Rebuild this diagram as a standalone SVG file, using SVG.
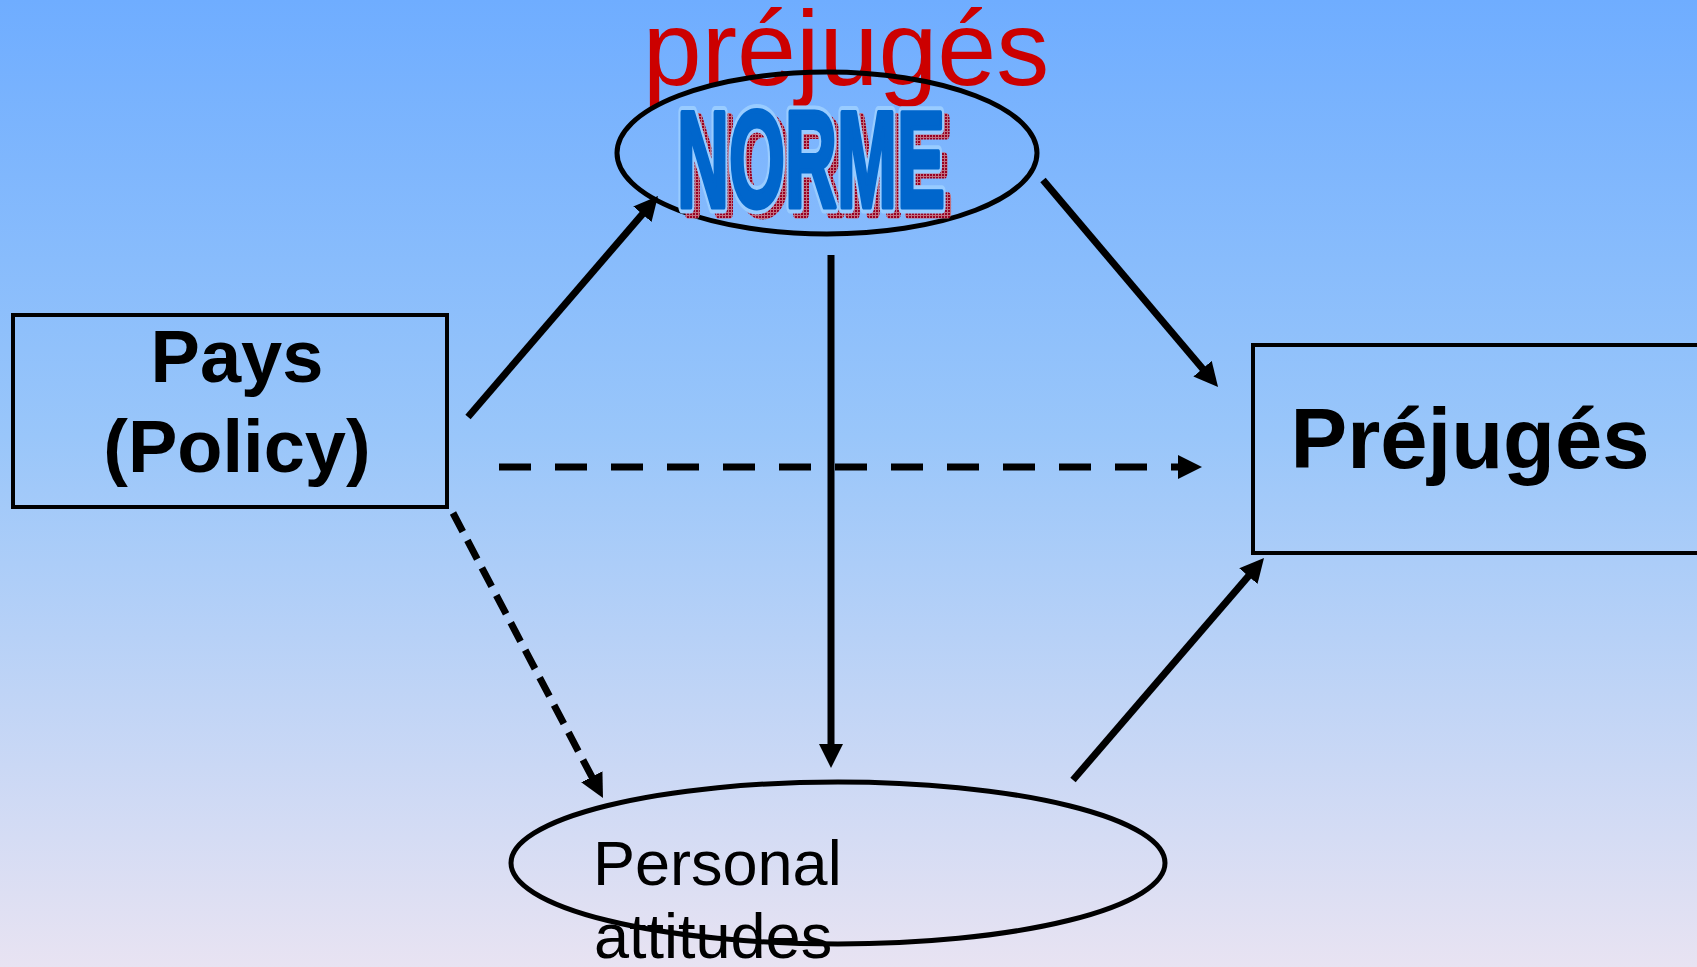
<svg xmlns="http://www.w3.org/2000/svg" width="1697" height="967" viewBox="0 0 1697 967">
  <defs>
    <linearGradient id="bg" x1="0" y1="0" x2="0" y2="1">
      <stop offset="0" stop-color="#6FADFF"/>
      <stop offset="0.45" stop-color="#99C6FA"/>
      <stop offset="1" stop-color="#E8E3F2"/>
    </linearGradient>
    <pattern id="hatch" width="3" height="3" patternUnits="userSpaceOnUse">
      <rect width="3" height="3" fill="#C07080"/>
      <rect width="2" height="2" fill="#990022"/>
    </pattern>
    <marker id="ah" markerUnits="userSpaceOnUse" markerWidth="24" markerHeight="24" refX="12" refY="12" orient="auto">
      <path d="M0,0 L24,12 L0,24 z" fill="#000"/>
    </marker>
    <style>
      .box { fill: none; stroke: #000; stroke-width: 4; }
      .ell { fill: none; stroke: #000; stroke-width: 5; }
      .lbl { font-family: "Liberation Sans", Arial, sans-serif; fill: #000; }
      .bold { font-weight: bold; }
      .conn { fill: none; stroke: #000; stroke-width: 7; marker-end: url(#ah); }
      .dashH { stroke-dasharray: 32 24; }
      .dashD { stroke-dasharray: 21 10; }
      .norme { font-family: "Liberation Sans", Arial, sans-serif; font-weight: bold; font-size: 138px; }
    </style>
  </defs>

  <rect x="0" y="0" width="1697" height="967" fill="url(#bg)"/>

  <g id="node-norme">
    <text x="846" y="85" text-anchor="middle" font-family="'Liberation Sans', Arial, sans-serif" font-size="106" fill="#CC0000">préjugés</text>
    <ellipse class="ell" cx="827" cy="153" rx="210" ry="81"/>
    <text class="norme" x="683" y="213" textLength="268" lengthAdjust="spacingAndGlyphs" fill="url(#hatch)" stroke="url(#hatch)" stroke-width="11" stroke-linejoin="round">NORME</text>
    <text class="norme" x="677" y="207" textLength="268" lengthAdjust="spacingAndGlyphs" fill="#99CCFF" stroke="#99CCFF" stroke-width="13" stroke-linejoin="round">NORME</text>
    <text class="norme" x="677" y="207" textLength="268" lengthAdjust="spacingAndGlyphs" fill="#0066CC" stroke="#0066CC" stroke-width="5" stroke-linejoin="round">NORME</text>
  </g>

  <g id="node-pays">
    <rect class="box" x="13" y="315" width="434" height="192"/>
    <text class="lbl bold" x="237" y="382" text-anchor="middle" font-size="74">Pays</text>
    <text class="lbl bold" x="237" y="472" text-anchor="middle" font-size="74">(Policy)</text>
  </g>

  <g id="node-prejuges">
    <rect class="box" x="1253" y="345" width="460" height="208"/>
    <text class="lbl bold" x="1470" y="468" text-anchor="middle" font-size="85">Préjugés</text>
  </g>

  <g id="node-personal">
    <ellipse class="ell" cx="838" cy="863" rx="327" ry="81"/>
    <text class="lbl" x="593" y="885" font-size="63">Personal</text>
    <text class="lbl" x="594" y="958" font-size="63">attitudes</text>
  </g>

  <g id="connectors">
    <path class="conn dashH" d="M499,467 L1190,467"/>
    <path class="conn" d="M468,417 L650.2,205.1"/>
    <path class="conn" d="M1043,180 L1210.3,377.8"/>
    <path class="conn" d="M831,255 L831,756"/>
    <path class="conn dashD" d="M453,513 L597.4,787.4"/>
    <path class="conn" d="M1073,780 L1256.2,567.1"/>
  </g>
</svg>
